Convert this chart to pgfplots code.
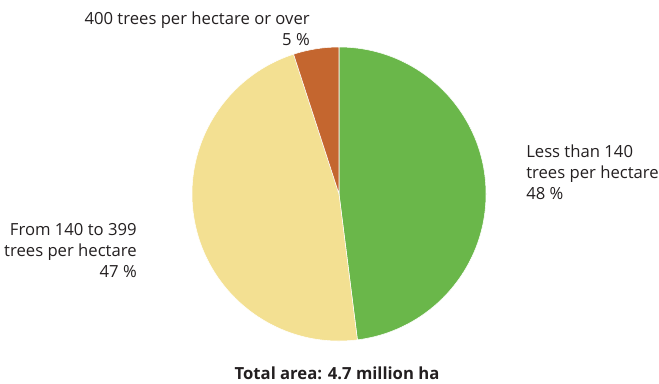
\documentclass[border=0pt]{standalone}
\usepackage{pgfplots}
\pgfplotsset{compat=1.18}
\usepackage{pgfplotstable}
\usepackage{fontspec}
\setmainfont{Open Sans}
\definecolor{cgreen}{RGB}{106,183,74}
\definecolor{cyellow}{RGB}{243,224,146}
\definecolor{corange}{RGB}{196,102,47}
\definecolor{ctext}{RGB}{35,31,32}
\pgfplotstableread{
label share
green 48
yellow 47
orange 5
}\piedata
\pgfplotstablegetelem{0}{share}\of\piedata \let\sA\pgfplotsretval
\pgfplotstablegetelem{1}{share}\of\piedata \let\sB\pgfplotsretval
\pgfplotstablegetelem{2}{share}\of\piedata \let\sC\pgfplotsretval
\pgfmathsetmacro{\aA}{90}
\pgfmathsetmacro{\aB}{\aA-3.6*\sA}
\pgfmathsetmacro{\aC}{\aB-3.6*\sB}
\pgfmathsetmacro{\aD}{\aC-3.6*\sC}
\begin{document}
\begin{tikzpicture}
\begin{axis}[
  scale only axis, width=494.25pt, height=287.25pt,
  xmin=0, xmax=659, ymin=0, ymax=383,
  hide axis, clip=false,
]
\path (axis cs:0,0) rectangle (axis cs:659,383);
\def\cx{339}\def\cy{189}\def\R{147}
\fill[cgreen, draw=white, line width=0.4pt] (axis cs:\cx,\cy) -- (axis cs:{\cx+\R*cos(\aA)},{\cy+\R*sin(\aA)}) arc[start angle=\aA, end angle=\aB, radius=110.25pt] -- cycle;
\fill[cyellow, draw=white, line width=0.4pt] (axis cs:\cx,\cy) -- (axis cs:{\cx+\R*cos(\aB)},{\cy+\R*sin(\aB)}) arc[start angle=\aB, end angle=\aC, radius=110.25pt] -- cycle;
\fill[corange, draw=white, line width=0.4pt] (axis cs:\cx,\cy) -- (axis cs:{\cx+\R*cos(\aC)},{\cy+\R*sin(\aC)}) arc[start angle=\aC, end angle=\aD, radius=110.25pt] -- cycle;
\tikzset{lab/.style={text=ctext, inner sep=0pt, font=\fontsize{12.5}{15.75}\selectfont}}
\node[lab, anchor=north east, align=right] at (axis cs:310,371) {400 trees per hectare or over\\5 \%};
\node[lab, anchor=north west, align=left] at (axis cs:526,238) {Less than 140\\trees per hectare\\48 \%};
\node[lab, anchor=north east, align=right] at (axis cs:137,160) {From 140 to 399\\trees per hectare\\47 \%};
\node[lab, anchor=center, font=\bfseries\fontsize{12.5}{15}\selectfont] at (axis cs:337,10) {Total area: 4.7 million ha};
\end{axis}
\end{tikzpicture}
\end{document}
